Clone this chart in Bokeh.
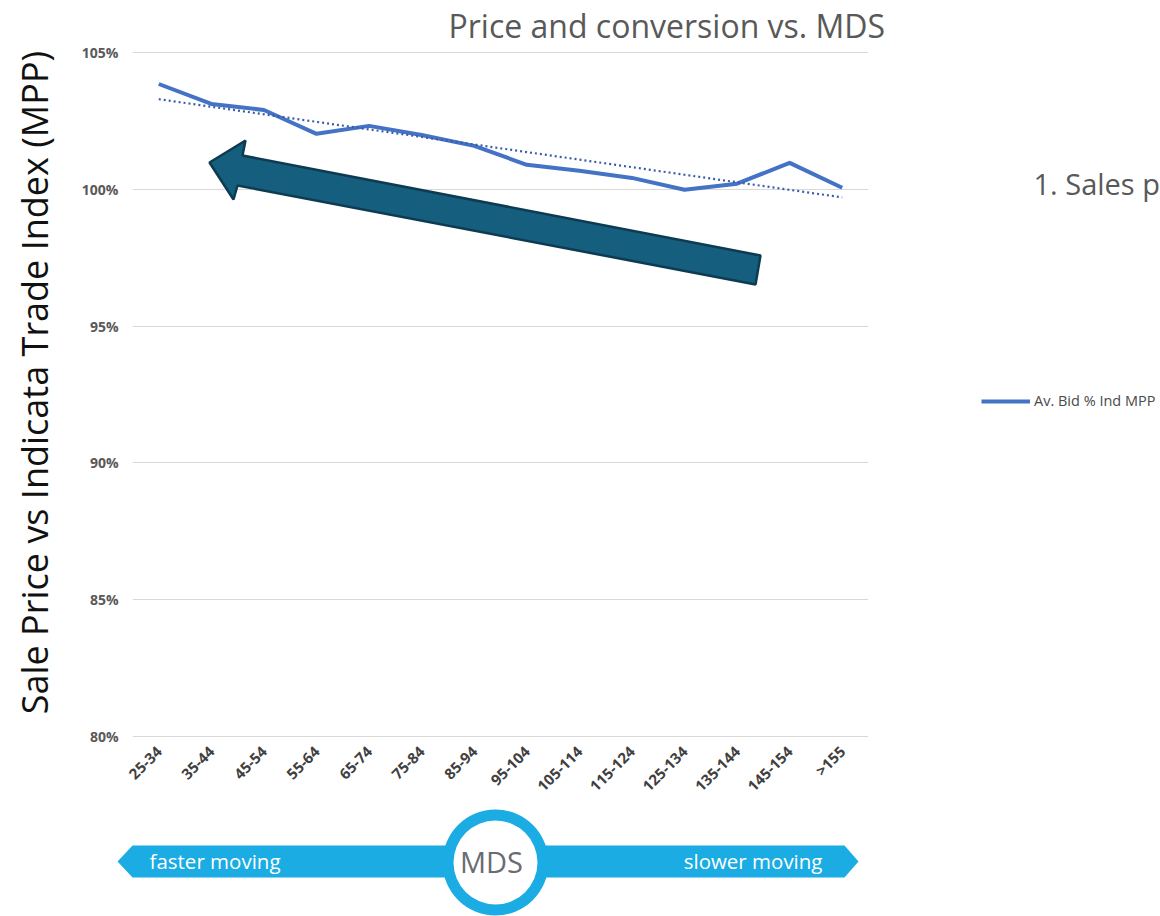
import numpy as np
from bokeh.plotting import figure
from bokeh.layouts import column, row
from bokeh.models import (Range1d, FactorRange, FixedTicker, PrintfTickFormatter, Title,
                          PolyAnnotation, Legend, LegendItem, ColumnDataSource)
from bokeh.core.properties import value
from bokeh.embed import file_html
from bokeh.resources import INLINE

# ---------------- data ----------------
categories = ["25-34", "35-44", "45-54", "55-64", "65-74", "75-84", "85-94",
              "95-104", "105-114", "115-124", "125-134", "135-144", "145-154", ">155"]
bid_pct_mpp = [103.84, 103.11, 102.89, 102.02, 102.31, 101.98, 101.58,
               100.89, 100.67, 100.41, 99.98, 100.20, 100.96, 100.05]
y_ticks = [80, 85, 90, 95, 100, 105]
series_name = "Av. Bid % Ind MPP"
title_text = "Price and conversion vs. MDS"
y_title = "Sale Price vs Indicata Trade Index (MPP)"
side_text = "1. Sales p"
band_left = "faster moving"
band_right = "slower moving"
band_mid = "MDS"

# linear trendline fitted to the series
idx = np.arange(len(categories))
slope, intercept = np.polyfit(idx, bid_pct_mpp, 1)
trend = list(intercept + slope * idx)

# ---------------- layout constants (page pixels) ----------------
W, H = 1160, 916
MID_BOTTOM = 805    # bottom of main row
LEFT_W = 60         # strip holding the y-axis title
MAIN_R = 900        # right edge of main chart figure
FL, FR, FT, FB = 132, 868, 48, 741   # chart frame edges


def deco_fig(x0, x1, y0, y1, height=None):
    f = figure(width=x1 - x0, height=height or (y1 - y0), x_range=Range1d(x0, x1),
               y_range=Range1d(y1, y0), output_backend="svg", toolbar_location=None,
               x_axis_location=None, y_axis_location=None, min_border=0)
    f.outline_line_color = None
    f.xgrid.visible = False
    f.ygrid.visible = False
    return f


# ---------------- left strip: y-axis title (frame aligned to chart frame) ----------------
left = deco_fig(0, LEFT_W, FT, FB, height=MID_BOTTOM)
left.text(x=[34], y=[382.5], text=[y_title], angle=np.pi / 2, text_font=value("Open Sans"),
          text_font_size="36px", text_color="#111111", text_align="center", text_baseline="middle")

# ---------------- main chart ----------------
p = figure(width=MAIN_R - LEFT_W, height=MID_BOTTOM, x_range=FactorRange(*categories),
           y_range=Range1d(79.9, 105.1), output_backend="svg", toolbar_location=None,
           min_border_left=FL - LEFT_W, min_border_right=MAIN_R - FR, min_border_top=FT,
           min_border_bottom=MID_BOTTOM - FB)
p.outline_line_color = None
p.xgrid.grid_line_color = None
p.ygrid.grid_line_color = "#d9d9d9"
p.ygrid.grid_line_width = 1

p.add_layout(Title(text=title_text, align="left", offset=448 - FL, standoff=4, vertical_align="middle",
                   text_font="Open Sans", text_font_size="32px", text_font_style="normal",
                   text_color="#595959"), "above")

p.yaxis.ticker = FixedTicker(ticks=y_ticks)
p.yaxis.formatter = PrintfTickFormatter(format="%d%%")
for ax in (p.xaxis, p.yaxis):
    ax.axis_line_color = None
    ax.major_tick_line_color = None
    ax.minor_tick_line_color = None
    ax.major_tick_out = 0
    ax.major_tick_in = 0
    ax.major_label_text_font = "Open Sans"
    ax.major_label_text_font_style = "bold"
p.yaxis.major_label_text_font_size = "14px"
p.yaxis.major_label_text_color = "#595959"
p.yaxis.major_label_standoff = 14
p.xaxis.major_label_text_font_size = "15px"
p.xaxis.major_label_text_color = "#404040"
p.xaxis.major_label_orientation = np.pi / 4
p.xaxis.major_label_standoff = 9

src = ColumnDataSource(dict(cat=categories, v=bid_pct_mpp, t=trend))
p.line("cat", "v", source=src, line_color="#4472C4", line_width=4, line_join="round")
p.line("cat", "t", source=src, line_color="#3A5DAA", line_width=2.2, line_dash="2 3")


def sx(X):
    return X - FL


def sy(Y):
    return FB - Y


# big arrow annotation
arrow_pts = [(209, 164), (245, 142), (242, 157), (760, 257), (755, 286), (237, 187), (233, 201)]
p.add_layout(PolyAnnotation(xs=[sx(a) for a, b in arrow_pts], ys=[sy(b) for a, b in arrow_pts],
                            xs_units="screen", ys_units="screen",
                            fill_color="#165E7E", fill_alpha=1, line_color="#0C3B52",
                            line_alpha=1, line_width=2.5))

# ---------------- right side (note + legend), frame aligned to chart frame ----------------
right = deco_fig(MAIN_R, W, FT, FB, height=MID_BOTTOM)
right.text(x=[1033], y=[183], text=[side_text], text_font=value("Open Sans"), text_font_size="29px",
           text_color="#595959", text_align="left", text_baseline="middle")
leg_line = right.line(x=[np.nan], y=[np.nan], line_color="#4472C4", line_width=4)
legend = Legend(items=[LegendItem(label=series_name, renderers=[leg_line])],
                location=(981 - MAIN_R, FB - 404 - 8), glyph_width=49, glyph_height=16,
                label_height=16, label_standoff=4, padding=0, margin=0, spacing=0,
                border_line_color=None, background_fill_alpha=0,
                label_text_font="Open Sans", label_text_font_size="14.5px", label_text_color="#4a4a4a")
right.add_layout(legend, "center")

# ---------------- bottom MDS band ----------------
bot = deco_fig(0, W, MID_BOTTOM, H)
BLUE = "#1AACE3"
left_bar_x = [117, 132, 452, 452, 132]
left_bar_y = [861, 845, 845, 877, 877]
right_bar_x = [538, 844, 858, 844, 538]
right_bar_y = [845, 845, 861, 877, 877]
bot.patches(xs=[left_bar_x, right_bar_x], ys=[left_bar_y, right_bar_y], fill_color=BLUE, line_color=None)
bot.circle(x=[495], y=[862], radius=42, fill_color="white", line_color=None)
bot.annulus(x=[495], y=[862], inner_radius=42, outer_radius=53, fill_color=BLUE, line_color=None)
bot.text(x=[149], y=[860], text=[band_left], text_font=value("Open Sans"), text_font_size="20.5px",
         text_color="white", text_align="left", text_baseline="middle")
bot.text(x=[822], y=[860], text=[band_right], text_font=value("Open Sans"), text_font_size="20.5px",
         text_color="white", text_align="right", text_baseline="middle")
bot.text(x=[491], y=[861], text=[band_mid], text_font=value("Open Sans"), text_font_size="29px",
         text_color="#6b6b73", text_align="center", text_baseline="middle")

layout = column(row(left, p, right, spacing=0), bot, spacing=0)
open("out.html", "w").write(file_html(layout, INLINE))
